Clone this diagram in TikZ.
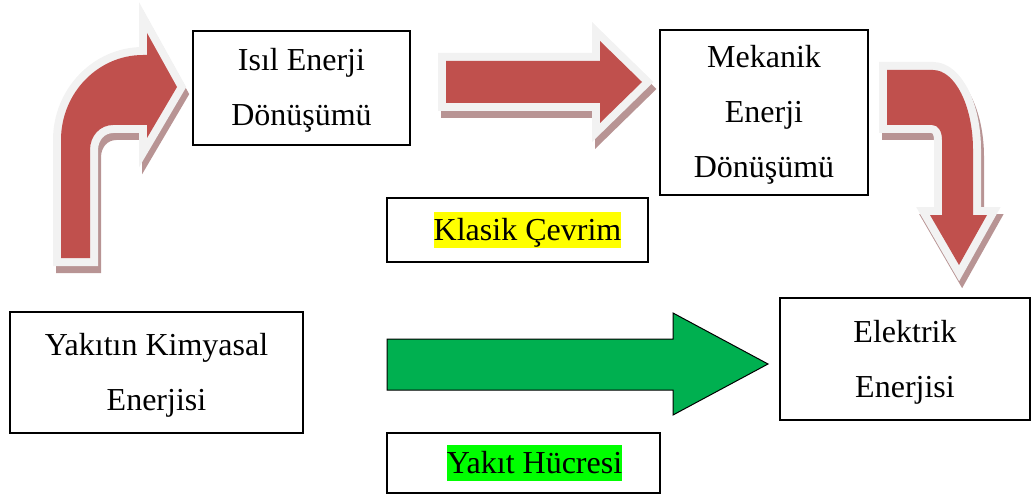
\documentclass[tikz,border=0pt]{standalone}
\usepackage{fontspec}
\setmainfont{Liberation Serif}
\usepackage{tikz}
\usetikzlibrary{positioning}
\definecolor{arrowred}{HTML}{C0504D}
\definecolor{arrowrim}{HTML}{F2F2F2}
\definecolor{arrowshade}{HTML}{B89494}
\definecolor{arrowgreen}{HTML}{00B050}
\definecolor{hlyellow}{HTML}{FFFF00}
\definecolor{hlgreen}{HTML}{00FF00}
\newcommand{\marker}[2]{{\setlength{\fboxsep}{0pt}\colorbox{#1}{\rule[-0.216em]{0pt}{1.107em}#2}}}
\newcommand{\linestrut}{\rule[-7pt]{0pt}{35pt}}

\begin{document}
\begin{tikzpicture}[x=1pt, y=-1pt,
    box/.style={draw=black, line width=1.6pt, fill=white, align=center,
                inner sep=0pt, font=\fontsize{32}{55}\selectfont},
    redarrow/.style={fill=arrowred, line join=miter,
                preaction={draw=arrowshade, fill=arrowshade, line width=16pt,
                           transform canvas={shift={(3pt,-7pt)}}},
                preaction={draw=arrowrim, line width=16pt}},
    greenarrow/.style={fill=arrowgreen, draw=black, line width=1pt}]
  \useasboundingbox (0,0) rectangle (1032,497);
  % red arrows of the classic cycle
  \path[redarrow] (61,258) -- (61,140) .. controls (61,93) and (98,55) .. (143,55)
    -- (147,55) -- (147,33) -- (177,87) -- (147,138) -- (147,125) -- (113,125)
    .. controls (100,125) and (90,136) .. (90,150) -- (90,258) -- cycle;
  \path[redarrow] (446,61) -- (600,61) -- (600,41) -- (642,82) -- (600,123)
    -- (600,103) -- (446,103) -- cycle;
  \path[redarrow] (887,70) -- (933,70) .. controls (955,70) and (973,106) .. (973,150)
    -- (973,215) -- (987,215) -- (959,265) -- (930,215) -- (942,215) -- (942,140)
    .. controls (942,131) and (938,125) .. (932,125) -- (887,125) -- cycle;
  % green arrow of the fuel cell
  \draw[greenarrow] (387,339) -- (673,339) -- (673,313) -- (768,364) -- (673,415)
    -- (673,390) -- (387,390) -- cycle;
  % boxes
  \node[box, minimum width=217pt, minimum height=114pt] (isil) at (301.5,88)
    {\linestrut Isıl Enerji\\\linestrut Dönüşümü};
  \node[box, minimum width=208pt, minimum height=165pt] (mekanik) at (764,112.5)
    {\linestrut Mekanik\\\linestrut Enerji\\\linestrut Dönüşümü};
  \node[box, minimum width=261pt, minimum height=64pt] (klasik) at (517.5,230)
    {\hspace*{20pt}\marker{hlyellow}{Klasik Çevrim}};
  \node[box, minimum width=293pt, minimum height=121pt] (yakit) at (156.5,372.5)
    {\linestrut Yakıtın Kimyasal\\\linestrut Enerjisi};
  \node[box, minimum width=250pt, minimum height=122pt] (elektrik) at (905,359)
    {\linestrut Elektrik\\\linestrut Enerjisi};
  \node[box, minimum width=273pt, minimum height=60pt] (hucre) at (523.5,463)
    {\hspace*{22pt}\marker{hlgreen}{Yakıt Hücresi}};
\end{tikzpicture}
\end{document}
